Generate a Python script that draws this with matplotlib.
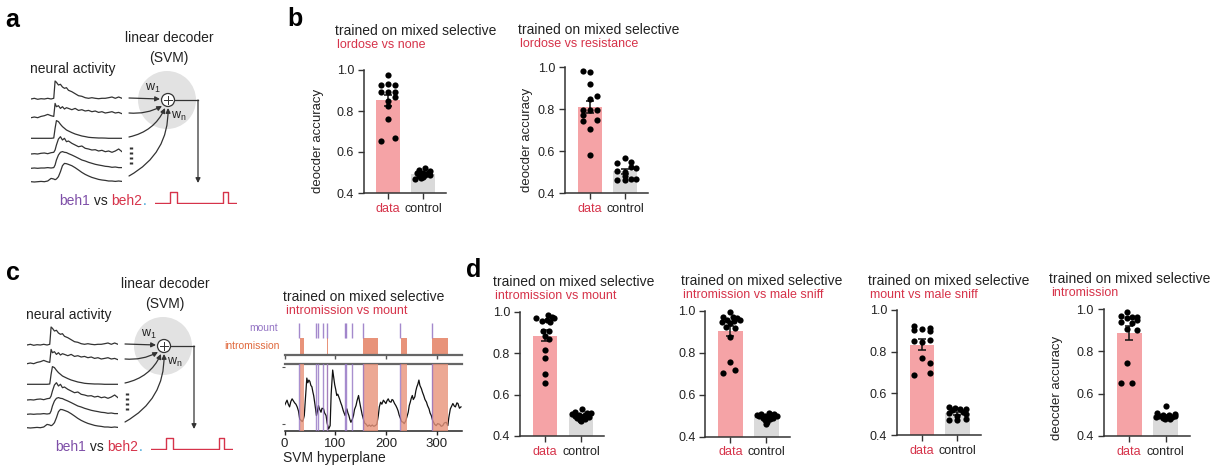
import numpy as np
import matplotlib
matplotlib.use("Agg")
import matplotlib.pyplot as plt
from matplotlib.patches import Circle

plt.rcParams['font.family'] = ['Liberation Sans', 'DejaVu Sans']
plt.rcParams['mathtext.fontset'] = 'custom'
plt.rcParams['mathtext.rm'] = 'Liberation Sans'
plt.rcParams['mathtext.it'] = 'Liberation Sans:italic'

W, H = 1225, 466
RED = '#D6334A'
PURPLE = '#7E4FA8'
PINK = '#F5A3A6'
GREY = '#DADADA'
TXT = '#222222'
MOUNT_C = '#9474C4'
INTRO_C = '#E8937A'

# ---------------- data ----------------
groups = ['data', 'control']

# decoder accuracy per animal (dots) and horizontal jitter columns
b1_data = [0.976, 0.927, 0.932, 0.927, 0.893, 0.893, 0.893, 0.87, 0.85, 0.824, 0.76, 0.654, 0.668]
b1_data_x = [0, -1, 0, 1, -1, 0, 1, 1, 0, 0, 0, -1, 1]
b1_ctrl = [0.52, 0.51, 0.505, 0.50, 0.50, 0.50, 0.495, 0.49, 0.49, 0.485, 0.48, 0.475, 0.47]
b1_ctrl_x = [0.3, -0.6, 0.9, -0.9, 0, 0.6, -0.3, 0.3, 0.9, -0.6, 0, -0.3, -1.2]

b2_data = [0.982, 0.975, 0.918, 0.863, 0.848, 0.795, 0.795, 0.795, 0.771, 0.745, 0.748, 0.705, 0.583]
b2_data_x = [-1, 0, 0, 1, 0, -1, 0, 1, -1, -1, 1, 0, 0]
b2_ctrl = [0.565, 0.55, 0.545, 0.525, 0.52, 0.505, 0.50, 0.48, 0.465, 0.46, 0.46, 0.465]
b2_ctrl_x = [0, 0.8, -1.2, 0.8, 1.5, -1.2, 0, 0, 0.8, -1.2, 0, 1.5]

d1_data = [0.984, 0.975, 0.968, 0.968, 0.955, 0.96, 0.952, 0.908, 0.905, 0.883, 0.867, 0.815, 0.775, 0.70, 0.654]
d1_data_x = [0.4, 1.0, -1.2, 1.2, -0.4, 0.3, 0.7, -0.3, 0.6, 0, 0.5, 0, 0, 0, 0]
d1_ctrl = [0.53, 0.515, 0.51, 0.505, 0.51, 0.50, 0.50, 0.495, 0.49, 0.49, 0.485, 0.48, 0.475, 0.47]
d1_ctrl_x = [0.2, -0.8, 0.9, -1.2, 1.4, -0.3, 0.5, -0.9, 0.1, 1.1, -0.5, 0.6, -0.1, 0]

d2_data = [0.995, 0.968, 0.968, 0.965, 0.956, 0.956, 0.952, 0.948, 0.94, 0.921, 0.92, 0.873, 0.757, 0.718, 0.705]
d2_data_x = [0, -1, 0.3, 0.9, -0.5, 1.3, 0.5, -1.2, 0, -0.6, 0.6, 0, 0, 0.6, -1]
d2_ctrl = [0.515, 0.51, 0.51, 0.505, 0.505, 0.50, 0.50, 0.50, 0.495, 0.49, 0.49, 0.485, 0.48, 0.47, 0.46]
d2_ctrl_x = [0.3, -0.7, 1.1, -1.3, 0.6, -0.2, 1.4, -1.0, 0.2, 0.9, -0.5, 0.5, -0.2, 0.1, 0]

d3_data = [0.925, 0.915, 0.91, 0.905, 0.9, 0.855, 0.85, 0.845, 0.77, 0.745, 0.698, 0.69]
d3_data_x = [-1.1, 1.1, 0, -1.1, 1.1, 1.1, -1.1, 0, 0, 1.1, 1.1, -1.1]
d3_ctrl = [0.535, 0.53, 0.525, 0.525, 0.52, 0.51, 0.505, 0.50, 0.49, 0.475, 0.47, 0.47]
d3_ctrl_x = [-1.2, -0.4, 0.4, 1.2, -0.8, 0.8, -1.2, 1.2, 0, 1.2, -1.2, 0]

d4_data = [0.987, 0.965, 0.962, 0.96, 0.958, 0.948, 0.94, 0.935, 0.905, 0.9, 0.746, 0.652, 0.65]
d4_data_x = [-0.3, -1.1, 1.1, 0.4, -0.3, 1.1, -1.1, 0.4, -0.3, 1.1, -0.3, -1.1, 0.4]
d4_ctrl = [0.54, 0.51, 0.505, 0.50, 0.50, 0.495, 0.495, 0.49, 0.49, 0.49, 0.485, 0.48, 0.48]
d4_ctrl_x = [0, -1.2, 1.2, -0.4, 0.5, 1.3, -0.9, 0.2, -1.3, 0.9, -0.4, 0.6, -0.1]

# schematic neural activity (height above baseline)
nrn_t = [18, 28, 38, 48, 58, 68, 78, 86, 90, 94, 100, 106, 112, 118, 124, 130,
         140, 150, 160, 170, 180, 190, 200, 210, 220, 230, 240, 250, 260, 270, 280, 290]
nrn_1 = [0, 0.7, -0.3, 0.3, 0, 0.7, 0, 0.7, 18, 16.7, 14, 14.7, 12, 10.7, 11.3, 8.7,
         7.3, 5.3, 3.3, 2.7, 1.3, 0.7, 1.3, 0.7, 0.3, 0.7, 0.7, 1.3, 2, 0.7, 2, 0.7]
nrn_2 = [0, 0.7, 0, 1.3, 2, 3.3, 2, 1.3, 14.3, 11, 12, 9.3, 11, 8.7, 10, 9.3,
         8, 9.3, 7.3, 8, 6.7, 7.3, 6, 6.7, 5.3, 6, 4.7, 5.3, 6, 4.7, 5.3, 4]
nrn_3 = [0, 0, 0, 0, 0, 0, 0, 0.3, 10, 17.7, 16.7, 14, 11.7, 10, 8.3, 7.3,
         5.7, 4.3, 3.3, 2.3, 1.7, 1, 0.7, 0.5, 0.3, 0.3, 0.2, 0, 0, 0, 0, 0]
nrn_4 = [0, 0.3, 0, 0.7, 1, 0.3, 1.3, 1.7, 4, 9, 15, 17.3, 14, 15.7, 12.3, 13,
         10.7, 9, 7.3, 8, 5.7, 5, 4, 4.3, 3, 3.7, 2.3, 3, 1.7, 3, 5, 2.3]
nrn_5 = [0, 0.3, 0, 0.3, 0.3, 0.7, 0.3, 0.7, 3.3, 8.3, 13.3, 16, 16.7, 16, 15.7, 14.7,
         13.3, 11.7, 10, 8.3, 7.3, 6, 5, 4, 3.3, 2.7, 2, 1.7, 1, 1.3, 0.7, 0.7]
nrn_6 = [0, -0.3, 0, 0.3, 0, 0.7, 3.3, 2.7, 2, 2.7, 5, 10, 16, 18.3, 18, 17.3,
         16, 14, 11.7, 9.3, 7.3, 5.7, 4.3, 3.3, 2.3, 1.7, 1.3, 0.7, 0.7, 0.3, 0.7, 0.3]
nrn_traces = [nrn_1, nrn_2, nrn_3, nrn_4, nrn_5, nrn_6]

# behaviour output pulses
pulse_t = [0, 15, 15, 22, 22, 68, 68, 73, 73, 82]
pulse_v = [0, 0, 1, 1, 0, 0, 1, 1, 0, 0]

# SVM hyperplane projection over time (frames)
hp_t = [0, 2.5, 5, 7.5, 10, 12.5, 15, 17.5, 20, 22.5, 25, 27.5, 30, 32.5, 35, 37, 39, 41, 44, 46,
        48, 50, 52, 54, 56, 57.5, 60, 63, 65, 67, 69, 72, 74, 77, 79, 82, 84, 87, 90, 92,
        95, 97, 99, 101, 103, 105, 108.5, 111, 113, 116, 119.5, 121, 123, 125, 127, 129, 131, 134, 136, 138,
        141, 143, 146, 148, 150, 153, 155.5, 158, 161, 164, 167, 170, 173, 176, 179, 182, 185, 187, 189.5, 192,
        195, 197, 200, 202, 204.5, 207, 210, 212, 214, 217, 219.5, 222, 224, 226, 229, 231, 234, 236, 239, 241,
        244, 246, 248, 250, 252, 254, 257, 259, 261, 263, 265, 267, 270, 272, 274.5, 277, 280, 282, 285, 287,
        289.5, 292, 294, 296, 299, 302, 306, 309, 312, 315, 319, 322, 324, 327, 330, 332, 335, 337, 340, 342,
        345, 348]
hp_v = [0.38, 0.42, 0.46, 0.40, 0.36, 0.44, 0.48, 0.45, 0.42, 0.40, 0.36, 0.30, 0.18, 0.16, 0.14, 0.17, 0.23, 0.45, 0.79, 0.72,
        0.76, 0.74, 0.68, 0.66, 0.58, 0.53, 0.40, 0.23, 0.30, 0.38, 0.33, 0.28, 0.34, 0.33, 0.27, 0.23, 0.12, 0.03, 0.08, 0.55,
        0.91, 0.80, 0.69, 0.62, 0.53, 0.55, 0.48, 0.42, 0.38, 0.30, 0.23, 0.30, 0.33, 0.27, 0.23, 0.17, 0.13, 0.18, 0.23, 0.32,
        0.38, 0.45, 0.53, 0.44, 0.36, 0.25, 0.18, 0.12, 0.10, 0.07, 0.09, 0.07, 0.09, 0.07, 0.08, 0.10, 0.23, 0.36, 0.43, 0.40,
        0.46, 0.44, 0.41, 0.45, 0.48, 0.44, 0.43, 0.47, 0.46, 0.41, 0.38, 0.34, 0.30, 0.24, 0.18, 0.14, 0.13, 0.11, 0.15, 0.20,
        0.28, 0.38, 0.43, 0.49, 0.53, 0.47, 0.51, 0.60, 0.66, 0.70, 0.76, 0.68, 0.63, 0.58, 0.53, 0.47, 0.43, 0.38, 0.33, 0.27,
        0.23, 0.16, 0.13, 0.10, 0.08, 0.11, 0.10, 0.07, 0.08, 0.12, 0.13, 0.08, 0.20, 0.33, 0.38, 0.41, 0.37, 0.36, 0.42, 0.41,
        0.34, 0.36]
mount_t = [29, 63, 65.5, 75, 83, 118.5, 121, 134, 155.5, 227.5, 291.5]
intro_on = [30, 83.5, 134.5, 155.5, 229, 291.5]
intro_off = [38, 85, 136, 183.5, 242.5, 322]

fig = plt.figure(figsize=(W / 100, H / 100), dpi=100)


def px_axes(x0, y0, x1, y1):
    return fig.add_axes([x0 / W, 1 - y1 / H, (x1 - x0) / W, (y1 - y0) / H])


ov = px_axes(0, 0, W, H)
ov.set_xlim(0, W)
ov.set_ylim(H, 0)
ov.axis('off')

# panel letters
for lab, (x, y) in zip('abcd', [(5, 20), (287, 19), (6, 273), (466, 270)]):
    ov.text(x, y, lab, fontsize=18, fontweight='bold', va='center', ha='left', color='k')


def decoder_diagram(dx, dy):
    ov.text(169 + dx, 38 + dy, 'linear decoder', fontsize=10, ha='center', va='center', color=TXT)
    ov.text(169 + dx, 58 + dy, '(SVM)', fontsize=10, ha='center', va='center', color=TXT)
    ov.text(30 + dx, 69 + dy, 'neural activity', fontsize=10, ha='left', va='center', color=TXT)

    # traces
    tax = px_axes(31 + dx, 75 + dy, 122 + dx, 190 + dy)
    tax.set_xlim(nrn_t[0], nrn_t[-1])
    tax.set_ylim(115, 0)
    tax.axis('off')
    base = [24, 42.7, 63.3, 79, 93.3, 106.7]
    for b, tr in zip(base, nrn_traces):
        tax.plot(nrn_t, b - np.array(tr), color='#333333', lw=0.9)

    # decoder unit
    ov.add_patch(Circle((167 + dx, 100 + dy), 29, color='#E2E2E2', zorder=0, lw=0))
    ov.add_patch(Circle((168 + dx, 100 + dy), 6.5, facecolor='white', edgecolor='#333333', lw=0.9, zorder=2))
    ov.plot([164 + dx, 172 + dx], [100 + dy, 100 + dy], color='#333333', lw=0.7, zorder=3)
    ov.plot([168 + dx, 168 + dx], [96 + dy, 104 + dy], color='#333333', lw=0.7, zorder=3)
    ov.text(153 + dx, 88 + dy, r'w$_1$', fontsize=9, ha='center', va='center', color=TXT)
    ov.text(179 + dx, 116 + dy, r'w$_\mathrm{n}$', fontsize=9, ha='center', va='center', color=TXT)

    ap = dict(arrowstyle='-|>', color='#333333', lw=0.9, mutation_scale=7, shrinkA=0, shrinkB=0)
    ov.annotate('', xy=(160 + dx, 99 + dy), xytext=(129 + dx, 98 + dy), arrowprops=ap)
    starts = [(129, 113), (129, 137), (129, 176)]
    ends = [(162, 106), (165, 108), (168, 108)]
    rads = [0.15, 0.25, 0.3]
    for (sx, sy), (ex, ey), r in zip(starts, ends, rads):
        ov.annotate('', xy=(ex + dx, ey + dy), xytext=(sx + dx, sy + dy),
                    arrowprops=dict(ap, connectionstyle='arc3,rad=%.2f' % r))
    ov.plot([131 + dx, 131 + dx], [147 + dy, 167 + dy], color='#333333', lw=2.4, linestyle=(0, (0.6, 0.9)))

    ov.plot([174.5 + dx, 198 + dx], [100 + dy, 100 + dy], color='#333333', lw=0.9)
    ov.annotate('', xy=(198 + dx, 183 + dy), xytext=(198 + dx, 100 + dy), arrowprops=ap)

    # beh1 vs beh2.
    t1 = ov.text(59 + dx, 201 + dy, 'beh1', fontsize=10, color=PURPLE, ha='left', va='center')
    t2 = ov.annotate(' vs ', xy=(1, 0), xycoords=t1, fontsize=10, color=TXT, va='bottom')
    t3 = ov.annotate('beh2', xy=(1, 0), xycoords=t2, fontsize=10, color=RED, va='bottom')
    ov.annotate('.', xy=(1, 0), xycoords=t3, fontsize=10, color='#3BA3D8', va='bottom')

    pax = px_axes(155 + dx, 191 + dy, 237 + dx, 204 + dy)
    pax.plot(pulse_t, pulse_v, color=RED, lw=1.0)
    pax.set_xlim(0, 82)
    pax.set_ylim(-0.08, 1.05)
    pax.axis('off')


decoder_diagram(0, 0)
decoder_diagram(-4, 246)


def bar_panel(cx, unit, ytop, ybot, data, data_x, ctrl, ctrl_x, sub, tx, ty, ylab=None):
    left = cx - 0.7 * unit
    right = cx + 1.65 * unit
    ax = px_axes(left, ytop, right, ybot)
    ax.set_xlim(-0.7, 1.65)
    ax.set_ylim(0.4, 1.0)
    means = [np.mean(data), np.mean(ctrl)]
    sems = [np.std(data, ddof=1) / np.sqrt(len(data)), np.std(ctrl, ddof=1) / np.sqrt(len(ctrl))]
    ax.bar([0, 1], means, width=0.68, color=[PINK, GREY], zorder=1)
    ax.errorbar([0, 1], means, yerr=sems, fmt='none', ecolor='#111111', elinewidth=1.1,
                capsize=3.2, capthick=1.1, zorder=3)
    ax.scatter(np.array(data_x) * 0.2, data, s=20, color='k', zorder=4, clip_on=False, lw=0)
    ax.scatter(1 + np.array(ctrl_x) * 0.2, ctrl, s=20, color='k', zorder=4, clip_on=False, lw=0)
    for s in ['top', 'right']:
        ax.spines[s].set_visible(False)
    for s in ['left', 'bottom']:
        ax.spines[s].set_color('#333333')
        ax.spines[s].set_linewidth(1.1)
    ax.set_yticks([0.4, 0.6, 0.8, 1.0])
    ax.set_yticklabels(['0.4', '0.6', '0.8', '1.0'])
    ax.set_xticks([0, 1])
    ax.set_xticklabels(groups)
    ax.tick_params(axis='both', labelsize=9, colors='#333333', length=4, width=1.0, pad=3)
    ax.tick_params(axis='y', labelcolor=TXT)
    ax.get_xticklabels()[0].set_color(RED)
    ax.get_xticklabels()[1].set_color(TXT)
    ax.patch.set_alpha(0)
    ov.text(tx, ty, 'trained on mixed selective', fontsize=10, color=TXT, ha='left', va='center')
    ov.text(tx + 2, ty + 14, sub, fontsize=9, color=RED, ha='left', va='center')
    if ylab is not None:
        ov.text(ylab[0], ylab[1], 'deocder accuracy', fontsize=9.5, color=TXT, rotation=90,
                ha='center', va='center')
    return ax


bar_panel(388.3, 35, 70, 193, b1_data, b1_data_x, b1_ctrl, b1_ctrl_x,
          'lordose vs none', 335, 31, ylab=(318, 141))
bar_panel(589.7, 35.6, 67, 193, b2_data, b2_data_x, b2_ctrl, b2_ctrl_x,
          'lordose vs resistance', 518, 30, ylab=(527, 140))
bar_panel(545, 36, 311.7, 436, d1_data, d1_data_x, d1_ctrl, d1_ctrl_x,
          'intromission vs mount', 493, 282)
bar_panel(730.5, 36, 310.7, 436.7, d2_data, d2_data_x, d2_ctrl, d2_ctrl_x,
          'intromission vs male sniff', 681, 281)
bar_panel(921.7, 35.7, 310, 435, d3_data, d3_data_x, d3_ctrl, d3_ctrl_x,
          'mount vs male sniff', 868, 281)
bar_panel(1129.2, 36.6, 309, 436, d4_data, d4_data_x, d4_ctrl, d4_ctrl_x,
          'intromission', 1049, 279, ylab=(1057, 388))

# ---- panel c right: ethogram + SVM hyperplane ----
ov.text(283, 297, 'trained on mixed selective', fontsize=10, color=TXT, ha='left', va='center')
ov.text(286, 311, 'intromission vs mount', fontsize=9, color=RED, ha='left', va='center')
ov.text(278, 328, 'mount', fontsize=7.5, color=MOUNT_C, ha='right', va='center')
ov.text(280, 346, 'intromission', fontsize=7.5, color='#E0683C', ha='right', va='center')

rax = px_axes(284.5, 320, 462, 355)
rax.set_xlim(0, 350)
rax.set_ylim(0, 1)
rax.vlines(mount_t, 0.5, 0.92, color=MOUNT_C, lw=1.0, alpha=0.85)
rax.broken_barh([(a, b - a) for a, b in zip(intro_on, intro_off)], (0.04, 0.44), color=INTRO_C, lw=0)
for s in ['top', 'right', 'left']:
    rax.spines[s].set_visible(False)
rax.spines['bottom'].set_color('#666666')
rax.spines['bottom'].set_linewidth(1.6)
rax.set_yticks([])
rax.set_xticks([0, 100, 200, 300])
rax.set_xticklabels([])
rax.tick_params(axis='x', length=3, width=1, colors='#555555')
rax.patch.set_alpha(0)

hax = px_axes(284.5, 364, 462, 431)
hax.set_xlim(0, 350)
hax.set_ylim(0, 1)
hax.plot(hp_t, hp_v, color='#111111', lw=0.9, zorder=2)
for a, b in zip(intro_on, intro_off):
    hax.axvspan(a, b, color=INTRO_C, alpha=0.8, lw=0, zorder=3)
for m in mount_t:
    hax.axvline(m, color=MOUNT_C, lw=1.0, alpha=0.8, zorder=4)
for s in ['right', 'left']:
    hax.spines[s].set_visible(False)
hax.spines['top'].set_color('#666666')
hax.spines['top'].set_linewidth(1.6)
hax.spines['bottom'].set_color('#222222')
hax.spines['bottom'].set_linewidth(1.1)
hax.set_xticks([0, 100, 200, 300])
hax.set_yticks([0.1, 0.95])
hax.set_yticklabels([])
hax.tick_params(axis='x', labelsize=9.5, length=3, width=1, colors='#222222', pad=2)
hax.tick_params(axis='y', length=2, width=0.8, colors='#555555')
ov.text(283, 458, 'SVM hyperplane', fontsize=10, color=TXT, ha='left', va='center')

fig.savefig('out.png', dpi=100)
